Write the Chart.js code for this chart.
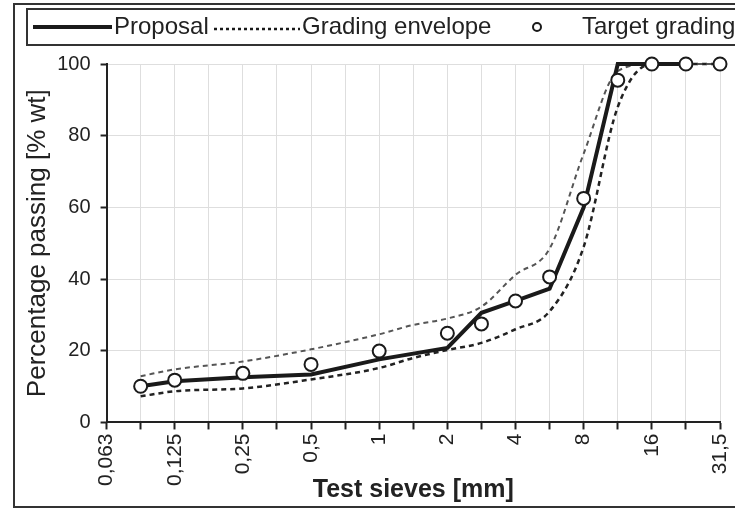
<!DOCTYPE html>
<html>
<head>
<meta charset="utf-8">
<script src="https://cdn.jsdelivr.net/npm/chart.js@4"></script>
<style>
  html, body { margin: 0; padding: 0; background: #fff; }
  #wrap { width: 735px; height: 510px; }
</style>
</head>
<body>
<div id="wrap"><canvas id="myChart" width="735" height="510"></canvas></div>
<script>
// sieve sizes, one category per sieve
const sieves = ['0,063', '0,09', '0,125', '0,18', '0,25', '0,355', '0,5', '0,71', '1', '1,4',
  '2', '2,8', '4', '5,6', '8', '11,2', '16', '22,4', '31,5']
const tickLabels = ['0,063', '0,125', '0,25', '0,5', '1', '2', '4', '8', '16', '31,5']

const proposal = [null, 10.1, 11.5, null, 12.6, null, 13.4, null, 17.6, null,
  20.8, 30.6, 33.9, 37.3, 60, 100, 100, 100, null]
const envelopeUpper = [null, 12.9, 14.8, null, 17, null, 20.4, null, 24.6, 27.2,
  29, 32.3, 41.2, 48.5, 75, 98, 100, 100, 100]
const envelopeLower = [null, 7.3, 8.7, null, 9.5, null, 12, null, 15.2, 18,
  20.2, 22.2, 26, 31, 49, 88, 100, 100, 100]
const target = [null, 10.1, 11.8, null, 13.7, null, 16.2, null, 19.9, null,
  24.9, 27.5, 33.9, 40.6, 62.5, 95.5, 100, 100, 100]

const legendNames = ['Proposal', 'Grading envelope', 'Target grading']

const font = '"Liberation Sans", Arial, sans-serif'
const ink = '#222'

// frame round the chart + boxed legend like the scanned figure
const frameLegend = {
  id: 'frameLegend',
  afterDraw(chart) {
    const ctx = chart.ctx
    ctx.save()
    ctx.strokeStyle = '#333'
    ctx.lineWidth = 2
    ctx.strokeRect(14, 4, 740, 503)
    ctx.strokeRect(27, 9, 720, 36)

    const y = 27
    // proposal sample
    ctx.beginPath()
    ctx.lineWidth = 4
    ctx.strokeStyle = '#1a1a1a'
    ctx.moveTo(33, y)
    ctx.lineTo(112, y)
    ctx.stroke()
    // envelope sample
    ctx.beginPath()
    ctx.lineWidth = 2.5
    ctx.setLineDash([3, 3])
    ctx.moveTo(214, y + 2)
    ctx.lineTo(300, y + 2)
    ctx.stroke()
    ctx.setLineDash([])
    // target sample
    ctx.beginPath()
    ctx.lineWidth = 2
    ctx.arc(537, y, 4, 0, Math.PI * 2)
    ctx.fillStyle = '#fff'
    ctx.fill()
    ctx.stroke()

    ctx.fillStyle = ink
    ctx.font = '24px ' + font
    ctx.textBaseline = 'middle'
    ctx.fillText(legendNames[0], 114, y)
    ctx.fillText(legendNames[1], 302, y)
    ctx.fillText(legendNames[2], 582, y)
    ctx.restore()
  }
}

const data = {
  labels: sieves,
  datasets: [
    {
      label: legendNames[2],
      data: target,
      showLine: false,
      pointRadius: 6.5,
      pointBorderWidth: 2,
      pointBorderColor: '#1a1a1a',
      pointBackgroundColor: '#fff',
      clip: false,
      order: 0
    },
    {
      label: legendNames[0],
      data: proposal,
      borderColor: '#1a1a1a',
      borderWidth: 4,
      pointRadius: 0,
      spanGaps: true,
      clip: false,
      order: 1
    },
    {
      label: legendNames[1],
      data: envelopeUpper,
      borderColor: '#555',
      borderWidth: 2,
      borderDash: [5, 4],
      pointRadius: 0,
      spanGaps: true,
      cubicInterpolationMode: 'monotone',
      clip: false,
      order: 2
    },
    {
      label: legendNames[1],
      data: envelopeLower,
      borderColor: '#222',
      borderWidth: 2.5,
      borderDash: [5, 4],
      pointRadius: 0,
      spanGaps: true,
      cubicInterpolationMode: 'monotone',
      clip: false,
      order: 2
    }
  ]
}

const config = {
  type: 'line',
  data: data,
  plugins: [frameLegend],
  options: {
    responsive: false,
    animation: false,
    layout: { padding: { left: 22, top: 64, right: 0, bottom: 0 } },
    plugins: {
      legend: { display: false },
      tooltip: { enabled: false }
    },
    scales: {
      x: {
        offset: false,
        // rotated last label would otherwise push the plot 29px in from the right
        afterFit: function (scale) { scale.paddingRight = 15 },
        grid: { color: '#dedede', lineWidth: 1, tickColor: ink, tickLength: 7, tickWidth: 2 },
        border: { color: ink, width: 2 },
        ticks: {
          autoSkip: false,
          minRotation: 90,
          maxRotation: 90,
          padding: 4,
          color: ink,
          font: { family: font, size: 21 },
          callback: function (value, index) {
            const s = sieves[index]
            return tickLabels.includes(s) ? s : ''
          }
        },
        title: {
          display: true,
          text: 'Test sieves [mm]',
          color: ink,
          font: { family: font, size: 25, weight: 'bold' },
          padding: { top: -15, bottom: 5 }
        }
      },
      y: {
        min: 0,
        max: 100,
        grid: { color: '#dedede', lineWidth: 1, tickColor: ink, tickLength: 6, tickWidth: 2 },
        border: { color: ink, width: 2 },
        ticks: {
          stepSize: 20,
          padding: 10,
          color: ink,
          font: { family: font, size: 20 }
        },
        title: {
          display: true,
          text: 'Percentage passing [% wt]',
          color: ink,
          font: { family: font, size: 26 },
          padding: { top: 0, bottom: -6 }
        }
      }
    }
  }
}

const myChart = new Chart(document.getElementById('myChart'), config)
</script>
</body>
</html>
